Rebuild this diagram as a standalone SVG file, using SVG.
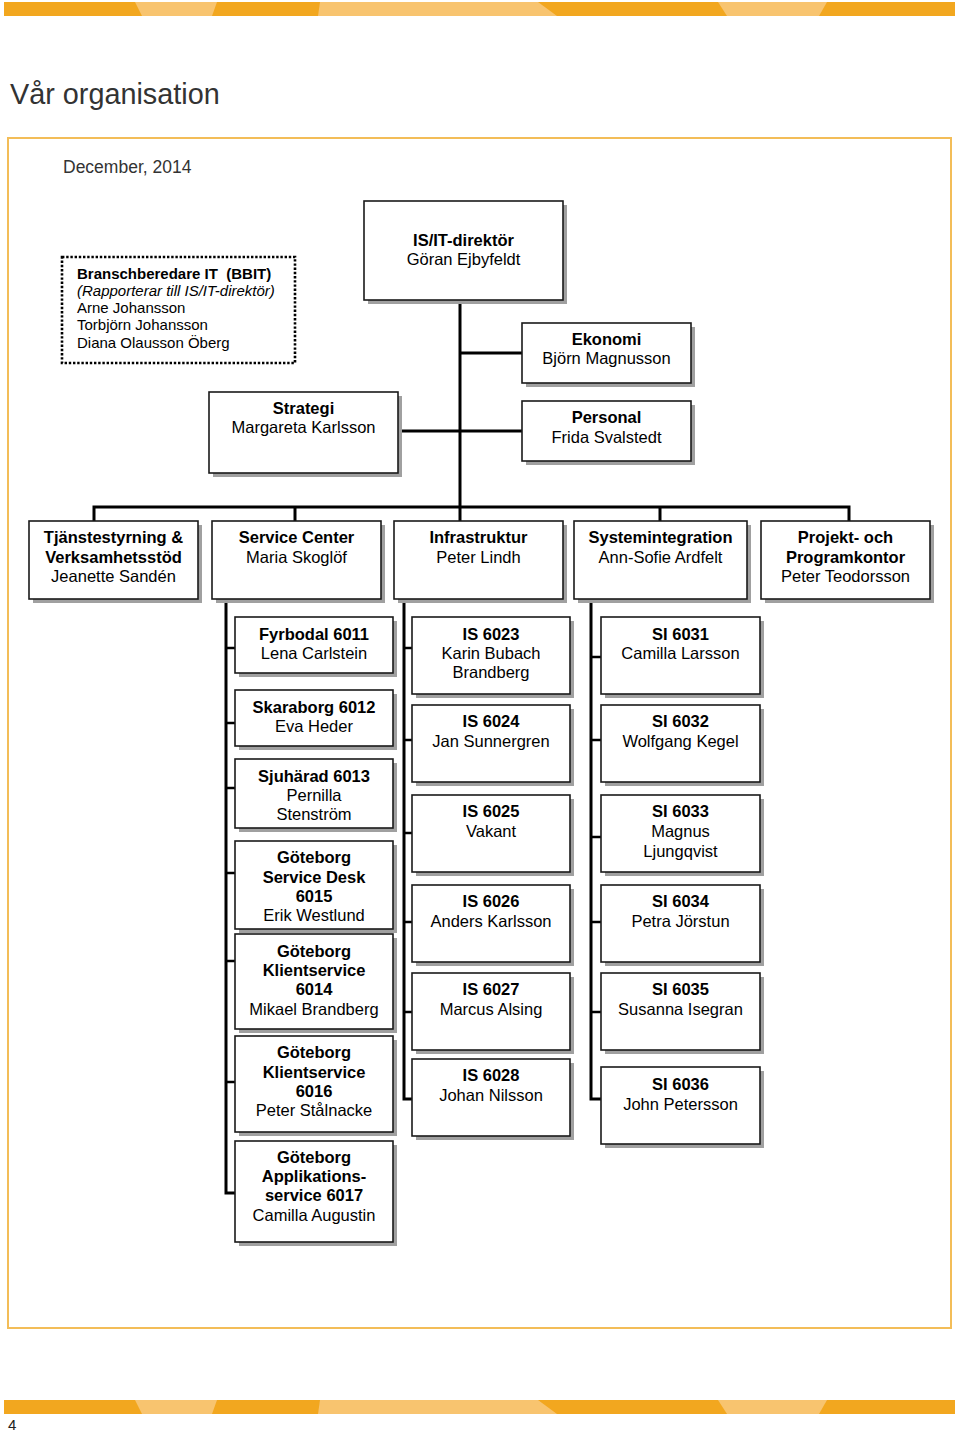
<svg xmlns="http://www.w3.org/2000/svg" xmlns:xlink="http://www.w3.org/1999/xlink" width="960" height="1432" viewBox="0 0 960 1432">
<style>
text{font-family:"Liberation Sans",Arial,sans-serif;font-size:16.5px;fill:#000;}
.c{text-anchor:middle;}
.b{font-weight:bold;}
.i{font-style:italic;}
.bx{fill:#fff;stroke:#1a1a1a;stroke-width:1.6;}
.sh{fill:#a0a0a0;}
.ln{fill:none;stroke:#000;stroke-width:3;}
.st{fill:none;stroke:#000;stroke-width:2.5;}
.dk{fill:#F2A71F;}
.lt{fill:#F8C46F;}
</style>
<defs>
<g id="bar">
<rect class="dk" x="4" y="2" width="951" height="14"/>
<polygon class="lt" points="135,2 217,2 212,16 142,16"/>
<polygon class="lt" points="320,2 538,2 557,16 318,16"/>
<polygon class="lt" points="718,2 827,2 819,16 727,16"/>
</g>
</defs>
<rect x="0" y="0" width="960" height="1432" fill="#fff"/>
<use xlink:href="#bar"/>
<use xlink:href="#bar" transform="translate(0,1398)"/>
<text x="8" y="1430" style="font-size:15px;fill:#222">4</text>
<text x="10" y="104" style="font-size:28.8px;fill:#333">Vår organisation</text>
<rect x="8" y="138" width="943" height="1190" fill="none" stroke="#F3BD58" stroke-width="2"/>
<text x="63" y="173" style="font-size:17.5px;fill:#333">December, 2014</text>

<g id="connectors">
<path class="ln" d="M460 300 V521"/>
<path class="ln" d="M460 353 H522"/>
<path class="ln" d="M398 431 H522"/>
<path class="ln" d="M94 521 V507 H849 V521"/>
<path class="ln" d="M295 507 V521"/>
<path class="ln" d="M660 507 V521"/>
<path class="ln" d="M226 599 V1193 H235"/>
<path class="st" d="M226 648 H235 M226 723 H235 M226 788 H235 M226 873 H235 M226 961 H235 M226 1082 H235"/>
<path class="ln" d="M404 599 V1099 H412"/>
<path class="st" d="M404 648 H412 M404 740 H412 M404 833 H412 M404 922 H412 M404 1012 H412"/>
<path class="ln" d="M591 599 V1099 H601"/>
<path class="st" d="M591 657 H601 M591 740 H601 M591 837 H601 M591 922 H601 M591 1012 H601"/>
</g>

<g id="bbit">
<rect x="62" y="257" width="233" height="106" fill="#fff" stroke="#000" stroke-width="2.6" stroke-dasharray="2.4 1.8"/>
<text x="77" y="279" class="b" style="font-size:15px">Branschberedare IT &#160;(BBIT)</text>
<text x="77" y="296" class="i" style="font-size:15px">(Rapporterar till IS/IT-direktör)</text>
<text x="77" y="313" style="font-size:15px">Arne Johansson</text>
<text x="77" y="330" style="font-size:15px">Torbjörn Johansson</text>
<text x="77" y="348" style="font-size:15px">Diana Olausson Öberg</text>
</g>

<g id="isit"><rect class="sh" x="368" y="205" width="199" height="99"/><rect class="bx" x="364" y="201" width="199" height="99"/>
<text class="c b" x="463.5" y="246">IS/IT-direktör</text><text class="c" x="463.5" y="265">Göran Ejbyfeldt</text></g>
<g id="ekonomi"><rect class="sh" x="526" y="327" width="169" height="60"/><rect class="bx" x="522" y="323" width="169" height="60"/>
<text class="c b" x="606.5" y="345">Ekonomi</text><text class="c" x="606.5" y="364">Björn Magnusson</text></g>
<g id="personal"><rect class="sh" x="526" y="405" width="169" height="60"/><rect class="bx" x="522" y="401" width="169" height="60"/>
<text class="c b" x="606.5" y="423">Personal</text><text class="c" x="606.5" y="443">Frida Svalstedt</text></g>
<g id="strategi"><rect class="sh" x="213" y="396" width="189" height="81"/><rect class="bx" x="209" y="392" width="189" height="81"/>
<text class="c b" x="303.5" y="414">Strategi</text><text class="c" x="303.5" y="433">Margareta Karlsson</text></g>

<g id="tjanst"><rect class="sh" x="33" y="525" width="169" height="78"/><rect class="bx" x="29" y="521" width="169" height="78"/>
<text class="c b" x="113.5" y="543">Tjänstestyrning &amp;</text><text class="c b" x="113.5" y="563">Verksamhetsstöd</text><text class="c" x="113.5" y="582">Jeanette Sandén</text></g>
<g id="service"><rect class="sh" x="216" y="525" width="169" height="78"/><rect class="bx" x="212" y="521" width="169" height="78"/>
<text class="c b" x="296.5" y="543">Service Center</text><text class="c" x="296.5" y="563">Maria Skoglöf</text></g>
<g id="infra"><rect class="sh" x="398" y="525" width="169" height="78"/><rect class="bx" x="394" y="521" width="169" height="78"/>
<text class="c b" x="478.5" y="543">Infrastruktur</text><text class="c" x="478.5" y="563">Peter Lindh</text></g>
<g id="sysint"><rect class="sh" x="578" y="525" width="173" height="78"/><rect class="bx" x="574" y="521" width="173" height="78"/>
<text class="c b" x="660.5" y="543">Systemintegration</text><text class="c" x="660.5" y="563">Ann-Sofie Ardfelt</text></g>
<g id="projekt"><rect class="sh" x="765" y="525" width="169" height="78"/><rect class="bx" x="761" y="521" width="169" height="78"/>
<text class="c b" x="845.5" y="543">Projekt- och</text><text class="c b" x="845.5" y="563">Programkontor</text><text class="c" x="845.5" y="582">Peter Teodorsson</text></g>

<g id="n6011"><rect class="sh" x="239" y="621" width="158" height="56"/><rect class="bx" x="235" y="617" width="158" height="56"/>
<text class="c b" x="314" y="640">Fyrbodal 6011</text><text class="c" x="314" y="659">Lena Carlstein</text></g>
<g id="n6012"><rect class="sh" x="239" y="694" width="158" height="56"/><rect class="bx" x="235" y="690" width="158" height="56"/>
<text class="c b" x="314" y="713">Skaraborg 6012</text><text class="c" x="314" y="732">Eva Heder</text></g>
<g id="n6013"><rect class="sh" x="239" y="763" width="158" height="69"/><rect class="bx" x="235" y="759" width="158" height="69"/>
<text class="c b" x="314" y="782">Sjuhärad 6013</text><text class="c" x="314" y="801">Pernilla</text><text class="c" x="314" y="820">Stenström</text></g>
<g id="n6015"><rect class="sh" x="239" y="845" width="158" height="88"/><rect class="bx" x="235" y="841" width="158" height="88"/>
<text class="c b" x="314" y="863">Göteborg</text><text class="c b" x="314" y="883">Service Desk</text><text class="c b" x="314" y="902">6015</text><text class="c" x="314" y="921">Erik Westlund</text></g>
<g id="n6014"><rect class="sh" x="239" y="938" width="158" height="95"/><rect class="bx" x="235" y="934" width="158" height="95"/>
<text class="c b" x="314" y="957">Göteborg</text><text class="c b" x="314" y="976">Klientservice</text><text class="c b" x="314" y="995">6014</text><text class="c" x="314" y="1015">Mikael Brandberg</text></g>
<g id="n6016"><rect class="sh" x="239" y="1040" width="158" height="96"/><rect class="bx" x="235" y="1036" width="158" height="96"/>
<text class="c b" x="314" y="1058">Göteborg</text><text class="c b" x="314" y="1078">Klientservice</text><text class="c b" x="314" y="1097">6016</text><text class="c" x="314" y="1116">Peter Stålnacke</text></g>
<g id="n6017"><rect class="sh" x="239" y="1145" width="158" height="101"/><rect class="bx" x="235" y="1141" width="158" height="101"/>
<text class="c b" x="314" y="1163">Göteborg</text><text class="c b" x="314" y="1182">Applikations-</text><text class="c b" x="314" y="1201">service 6017</text><text class="c" x="314" y="1221">Camilla Augustin</text></g>

<g id="n6023"><rect class="sh" x="416" y="621" width="158" height="77"/><rect class="bx" x="412" y="617" width="158" height="77"/>
<text class="c b" x="491" y="640">IS 6023</text><text class="c" x="491" y="659">Karin Bubach</text><text class="c" x="491" y="678">Brandberg</text></g>
<g id="n6024"><rect class="sh" x="416" y="709" width="158" height="77"/><rect class="bx" x="412" y="705" width="158" height="77"/>
<text class="c b" x="491" y="727">IS 6024</text><text class="c" x="491" y="747">Jan Sunnergren</text></g>
<g id="n6025"><rect class="sh" x="416" y="799" width="158" height="77"/><rect class="bx" x="412" y="795" width="158" height="77"/>
<text class="c b" x="491" y="817">IS 6025</text><text class="c" x="491" y="837">Vakant</text></g>
<g id="n6026"><rect class="sh" x="416" y="889" width="158" height="77"/><rect class="bx" x="412" y="885" width="158" height="77"/>
<text class="c b" x="491" y="907">IS 6026</text><text class="c" x="491" y="927">Anders Karlsson</text></g>
<g id="n6027"><rect class="sh" x="416" y="977" width="158" height="77"/><rect class="bx" x="412" y="973" width="158" height="77"/>
<text class="c b" x="491" y="995">IS 6027</text><text class="c" x="491" y="1015">Marcus Alsing</text></g>
<g id="n6028"><rect class="sh" x="416" y="1063" width="158" height="77"/><rect class="bx" x="412" y="1059" width="158" height="77"/>
<text class="c b" x="491" y="1081">IS 6028</text><text class="c" x="491" y="1101">Johan Nilsson</text></g>

<g id="n6031"><rect class="sh" x="605" y="621" width="159" height="77"/><rect class="bx" x="601" y="617" width="159" height="77"/>
<text class="c b" x="680.5" y="640">SI 6031</text><text class="c" x="680.5" y="659">Camilla Larsson</text></g>
<g id="n6032"><rect class="sh" x="605" y="709" width="159" height="77"/><rect class="bx" x="601" y="705" width="159" height="77"/>
<text class="c b" x="680.5" y="727">SI 6032</text><text class="c" x="680.5" y="747">Wolfgang Kegel</text></g>
<g id="n6033"><rect class="sh" x="605" y="799" width="159" height="77"/><rect class="bx" x="601" y="795" width="159" height="77"/>
<text class="c b" x="680.5" y="817">SI 6033</text><text class="c" x="680.5" y="837">Magnus</text><text class="c" x="680.5" y="857">Ljungqvist</text></g>
<g id="n6034"><rect class="sh" x="605" y="889" width="159" height="77"/><rect class="bx" x="601" y="885" width="159" height="77"/>
<text class="c b" x="680.5" y="907">SI 6034</text><text class="c" x="680.5" y="927">Petra Jörstun</text></g>
<g id="n6035"><rect class="sh" x="605" y="977" width="159" height="77"/><rect class="bx" x="601" y="973" width="159" height="77"/>
<text class="c b" x="680.5" y="995">SI 6035</text><text class="c" x="680.5" y="1015">Susanna Isegran</text></g>
<g id="n6036"><rect class="sh" x="605" y="1071" width="159" height="77"/><rect class="bx" x="601" y="1067" width="159" height="77"/>
<text class="c b" x="680.5" y="1090">SI 6036</text><text class="c" x="680.5" y="1110">John Petersson</text></g>
</svg>
